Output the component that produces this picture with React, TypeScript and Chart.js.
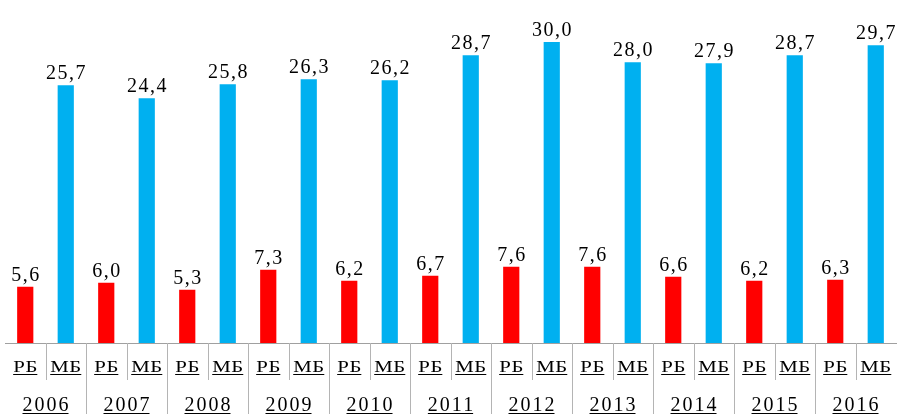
import React, { useEffect, useRef } from "react";
import { Chart, registerables } from "chart.js";

Chart.register(...registerables);

const years = ["2006", "2007", "2008", "2009", "2010", "2011", "2012", "2013", "2014", "2015", "2016"];
const subLabels = ["РБ", "МБ"];
const rbValues = [5.6, 6.0, 5.3, 7.3, 6.2, 6.7, 7.6, 7.6, 6.6, 6.2, 6.3];
const mbValues = [25.7, 24.4, 25.8, 26.3, 26.2, 28.7, 30.0, 28.0, 27.9, 28.7, 29.7];

const RED = "#FF0000";
const BLUE = "#00B0F0";
const FONT = "'Liberation Serif', 'Times New Roman', serif";

const fmt = (v: number) => v.toFixed(1).replace(".", ",");

function spacedText(ctx: CanvasRenderingContext2D, text: string, font: string, cx: number, y: number, spacing: number, sx: number, underline: boolean) {
  ctx.save();
  (ctx as any).letterSpacing = spacing + "px";
  ctx.font = font;
  ctx.textAlign = "left";
  const w = (ctx.measureText(text).width - spacing) * sx;
  ctx.translate(cx - w / 2, y);
  ctx.scale(sx, 1);
  ctx.fillText(text, 0, 0);
  ctx.restore();
  if (underline) {
    ctx.save();
    ctx.strokeStyle = "#000";
    ctx.lineWidth = 1;
    ctx.beginPath();
    ctx.moveTo(cx - w / 2, Math.round(y + 2) + 0.5);
    ctx.lineTo(cx + w / 2, Math.round(y + 2) + 0.5);
    ctx.stroke();
    ctx.restore();
  }
}

const labelPlugin = {
  id: "customLabels",
  afterDatasetsDraw(chart: any) {
    const ctx: CanvasRenderingContext2D = chart.ctx;
    const area = chart.chartArea;
    const xScale = chart.scales.x;
    ctx.save();
    ctx.fillStyle = "#000";
    ctx.textBaseline = "alphabetic";
    chart.data.datasets.forEach((ds: any, di: number) => {
      const meta = chart.getDatasetMeta(di);
      meta.data.forEach((bar: any, i: number) => {
        const v = ds.data[i];
        if (v === null || v === undefined) return;
        spacedText(ctx, fmt(v), `20px ${FONT}`, bar.x, bar.y - 6, 1.5, 1, false);
      });
    });
    const n = chart.data.labels.length;
    const step = (area.right - area.left) / n;
    ctx.strokeStyle = "#b4b4b4";
    ctx.lineWidth = 1;
    for (let i = 1; i < n; i++) {
      const x = Math.round(area.left + i * step) + 0.5;
      ctx.beginPath();
      ctx.moveTo(x, area.bottom);
      ctx.lineTo(x, i % 2 === 0 ? chart.height : area.bottom + 37);
      ctx.stroke();
    }
    ctx.fillStyle = "#000";
    for (let i = 0; i < n; i++) {
      const cx = xScale.getPixelForValue(i);
      spacedText(ctx, chart.data.labels[i], `16px ${FONT}`, cx, area.bottom + 29, 0.5, 1.3, true);
    }
    years.forEach((y, yi) => {
      const cx = (xScale.getPixelForValue(yi * 2) + xScale.getPixelForValue(yi * 2 + 1)) / 2;
      spacedText(ctx, y, `20px ${FONT}`, cx, area.bottom + 68, 2, 1, true);
    });
    ctx.restore();
  },
};

export default function App() {
  const ref = useRef<HTMLCanvasElement>(null);
  useEffect(() => {
    if (!ref.current) return;
    const labels: string[] = [];
    const rbData: (number | null)[] = [];
    const mbData: (number | null)[] = [];
    years.forEach((_, i) => {
      labels.push(subLabels[0], subLabels[1]);
      rbData.push(rbValues[i], null);
      mbData.push(null, mbValues[i]);
    });
    const chart = new Chart(ref.current, {
      type: "bar",
      data: {
        labels,
        datasets: [
          { label: "РБ", data: rbData, backgroundColor: RED, grouped: false } as any,
          { label: "МБ", data: mbData, backgroundColor: BLUE, grouped: false } as any,
        ],
      },
      options: {
        responsive: false,
        animation: false,
        datasets: { bar: { categoryPercentage: 1, barPercentage: 0.4 } } as any,
        layout: { padding: { left: 5, right: 1, top: 0, bottom: 71 } },
        plugins: { legend: { display: false }, tooltip: { enabled: false } },
        scales: {
          x: {
            ticks: { display: false },
            grid: { display: false, drawTicks: false },
            border: { display: true, color: "#a0a0a0", width: 1 },
          },
          y: {
            display: false,
            min: 0,
            max: 34.2,
          },
        },
      },
      plugins: [labelPlugin],
    });
    return () => chart.destroy();
  }, []);
  return (
    <div style={{ position: "fixed", left: 0, top: 0, width: 897, height: 414, background: "#fff" }}>
      <canvas ref={ref} width={897} height={414} style={{ width: 897, height: 414 }} />
    </div>
  );
}
